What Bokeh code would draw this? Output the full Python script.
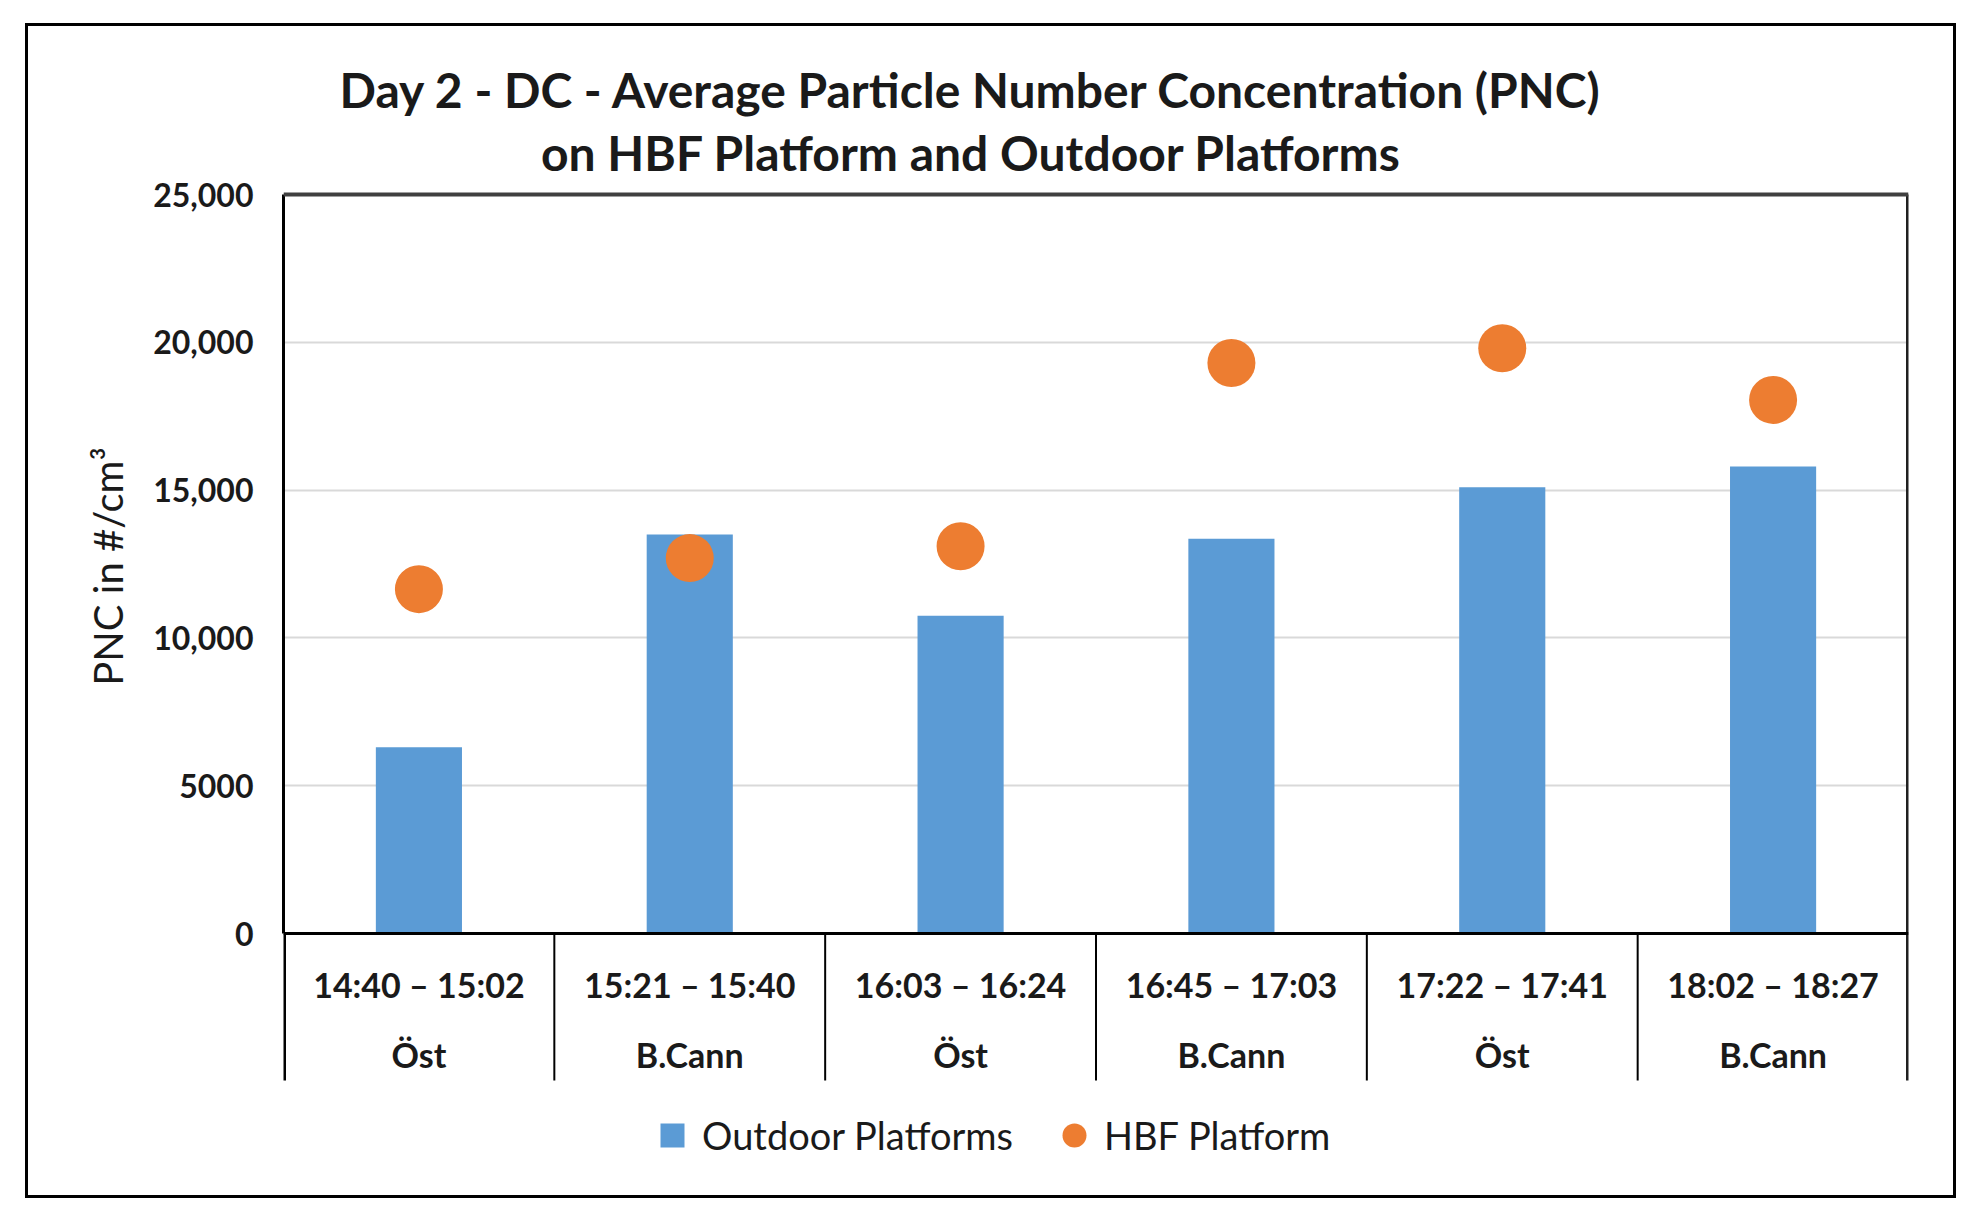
from bokeh.plotting import figure
from bokeh.models import (Range1d, FixedTicker, Label, Span,
                          Legend, LegendItem, NumeralTickFormatter)
from bokeh.core.properties import value
from bokeh.embed import file_html
from bokeh.resources import INLINE

# ---- data ----
times = ["14:40 – 15:02", "15:21 – 15:40", "16:03 – 16:24",
         "16:45 – 17:03", "17:22 – 17:41", "18:02 – 18:27"]
platforms = ["Öst", "B.Cann", "Öst", "B.Cann", "Öst", "B.Cann"]
outdoor = [6300, 13500, 10750, 13350, 15100, 15800]
hbf = [11650, 12700, 13100, 19300, 19800, 18050]
ytick_vals = [0, 5000, 10000, 15000, 20000, 25000]
ytick_labels = ["0", "5000", "10,000", "15,000", "20,000", "25,000"]
title_lines = ["Day 2 - DC - Average Particle Number Concentration (PNC)",
               "on HBF Platform and Outdoor Platforms"]
y_label = "PNC in #/cm³"
series_names = ["Outdoor Platforms", "HBF Platform"]

BLUE = "#5B9BD5"
ORANGE = "#ED7D31"
TXT = "#1a1a1a"
n = len(times)
YMAX = 25000

# ---- layout geometry (pixels) ----
W, H = 1931, 1175
PLOT_H = 739                 # pixel height of 0..25000
U = YMAX / PLOT_H            # data units per pixel
TOP_PAD = 168                # frame top -> 25000 line
BOT_PAD = 268                # 0 line -> frame bottom
YTOP = YMAX + TOP_PAD * U
YBOT = -BOT_PAD * U
Y_SEP = -147 * U             # bottom of the column separators
Y_ROW1 = -51 * U             # time-range labels
Y_ROW2 = -121 * U            # platform labels

centers = [2 * i + 1 for i in range(n)]
bounds = [2 * i for i in range(n + 1)]

p = figure(width=W, height=H, output_backend="svg", toolbar_location=None,
           x_range=Range1d(0, 2 * n), y_range=Range1d(YBOT, YTOP),
           x_axis_location=None,
           min_border_left=255, min_border_right=51, min_border_top=0,
           min_border_bottom=0)
p.margin = (23, 0, 0, 25)
p.styles = {"border": "3px solid black"}
p.background_fill_color = "white"
p.border_fill_color = "white"
p.outline_line_color = None

# gridlines
p.xgrid.visible = False
p.ygrid.grid_line_color = "#d9d9d9"
p.ygrid.grid_line_width = 2
p.ygrid.ticker = FixedTicker(ticks=ytick_vals)

# plot-area top edge, x axis line, column separators, right edge
p.add_layout(Span(location=YMAX, dimension="width", line_color="#404040", line_width=4))
p.add_layout(Span(location=0, dimension="width", line_color="black", line_width=3))
inner = bounds[1:-1]
p.segment(x0=inner, y0=[0] * len(inner), x1=inner, y1=[Y_SEP] * len(inner),
          line_color="black", line_width=2)
p.segment(x0=[bounds[0]], y0=[0], x1=[bounds[0]], y1=[Y_SEP],
          line_color="black", line_width=5)
p.segment(x0=[bounds[-1]], y0=[Y_SEP], x1=[bounds[-1]], y1=[YMAX],
          line_color="#202020", line_width=5)

# category labels (two rows)
p.text(x=centers, y=[Y_ROW1] * n, text=times, text_align="center",
       text_baseline="middle", text_font=value("Lato"), text_font_style="bold",
       text_font_size="34px", text_color=TXT)
p.text(x=centers, y=[Y_ROW2] * n, text=platforms, text_align="center",
       text_baseline="middle", text_font=value("Lato"), text_font_style="bold",
       text_font_size="34px", text_color=TXT)

# y axis
ya = p.yaxis[0]
ya.bounds = (0, YMAX)
ya.ticker = FixedTicker(ticks=ytick_vals)
ya.formatter = NumeralTickFormatter(format="0,0")
ya.major_label_overrides = {v: l for v, l in zip(ytick_vals, ytick_labels)}
ya.major_tick_out = 0
ya.major_tick_in = 0
ya.minor_tick_out = 0
ya.minor_tick_in = 0
ya.axis_line_color = "black"
ya.axis_line_width = 3
ya.major_label_standoff = 30
ya.major_label_text_font = "Lato"
ya.major_label_text_font_style = "bold"
ya.major_label_text_font_size = "32px"
ya.major_label_text_color = TXT
# leading fixed-width spaces lift the label to the middle of the 0..25000 span
ya.axis_label = "\u2003\u2003\u2003\u2009" + y_label
ya.axis_label_text_font = "Lato"
ya.axis_label_text_font_style = "normal"
ya.axis_label_text_font_size = "40px"
ya.axis_label_text_color = TXT
ya.axis_label_standoff = 18

bars = p.vbar(x=centers, top=outdoor, width=2 * 0.318, color=BLUE, line_color=None)
dots = p.scatter(x=centers, y=hbf, size=48, color=ORANGE, line_color=None)

# title (screen units, measured from the frame's bottom-left)
for txt, yy in zip(title_lines, [H - 63, H - 126]):
    p.add_layout(Label(x=688, y=yy, x_units="screen", y_units="screen",
                       text=txt, text_align="center", text_baseline="middle",
                       text_font="Lato", text_font_style="bold",
                       text_font_size="48px", text_color=TXT))

# legend: a zero-size square marker stands in for the bars' swatch
sq = p.scatter(x=centers, y=outdoor, size=0, marker="square", color=BLUE,
               line_color=None)
leg = Legend(items=[LegendItem(label=series_names[0], renderers=[sq]),
                    LegendItem(label=series_names[1], renderers=[dots])],
             location=(359, 36), orientation="horizontal",
             glyph_width=60, glyph_height=60, label_standoff=0, spacing=31,
             padding=0, margin=0, border_line_alpha=0, background_fill_alpha=0,
             label_text_font="Lato", label_text_font_size="38px",
             label_text_color=TXT)
p.add_layout(leg)

open("out.html", "w").write(file_html(p, INLINE))
